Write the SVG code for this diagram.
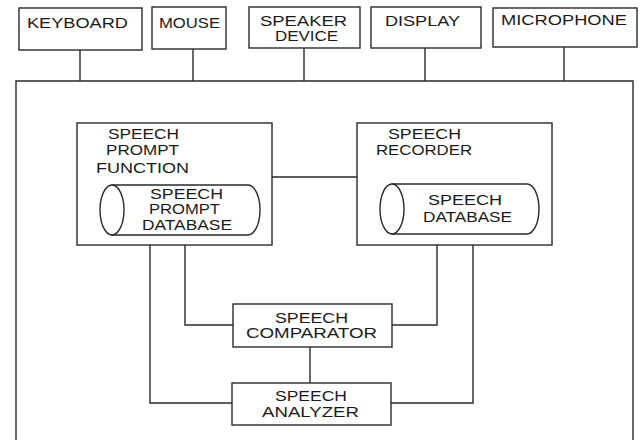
<svg xmlns="http://www.w3.org/2000/svg" width="641" height="440" viewBox="0 0 641 440">
<style>
.b{fill:#fff;stroke:#2a2a2a;stroke-width:1.4}
.c{fill:none;stroke:#2a2a2a;stroke-width:1.4}
text{font-family:"Liberation Sans",Arial,sans-serif;font-size:14px;fill:#1a1a1a}
</style>
<rect width="641" height="440" fill="#fff"/>
<g id="system"><path class="c" d="M16,445 V81 H633 V445"/></g>
<g id="connectors">
<path class="c" d="M80,50 V81 M193,49 V81 M304,48 V81 M425,48 V81 M564,47 V81"/>
<path class="c" d="M272,177 H357"/>
<path class="c" d="M185,245 V325 H233 M437,245 V325 H392 M310,347 V383 M150,245 V403 H232 M473,245 V403 H391"/>
</g>
<g id="keyboard"><rect class="b" x="19" y="8" width="123" height="42"/><text x="27" y="28" textLength="101" lengthAdjust="spacingAndGlyphs">KEYBOARD</text></g>
<g id="mouse"><rect class="b" x="152" y="7" width="74" height="42"/><text x="159" y="28" textLength="61" lengthAdjust="spacingAndGlyphs">MOUSE</text></g>
<g id="speaker"><rect class="b" x="249" y="7" width="111" height="41"/><text x="260" y="26" textLength="87" lengthAdjust="spacingAndGlyphs">SPEAKER</text><text x="275" y="41" textLength="63" lengthAdjust="spacingAndGlyphs">DEVICE</text></g>
<g id="display"><rect class="b" x="371" y="7" width="110" height="41"/><text x="385" y="26" textLength="75" lengthAdjust="spacingAndGlyphs">DISPLAY</text></g>
<g id="microphone"><rect class="b" x="493" y="8" width="144" height="39"/><text x="501" y="25" textLength="126" lengthAdjust="spacingAndGlyphs">MICROPHONE</text></g>
<g id="prompt">
<rect class="b" x="77" y="123" width="195" height="122"/>
<text x="108" y="139" textLength="71" lengthAdjust="spacingAndGlyphs">SPEECH</text>
<text x="106" y="155" textLength="73" lengthAdjust="spacingAndGlyphs">PROMPT</text>
<text x="96" y="173" textLength="93" lengthAdjust="spacingAndGlyphs">FUNCTION</text>
</g>
<g id="prompt-db">
<path class="b" d="M112,185 H248 A12,25 0 0 1 248,235 H112 Z"/>
<ellipse class="b" cx="112" cy="210" rx="12" ry="25"/>
<text x="150" y="199" textLength="73" lengthAdjust="spacingAndGlyphs">SPEECH</text>
<text x="149" y="214" textLength="71" lengthAdjust="spacingAndGlyphs">PROMPT</text>
<text x="142" y="230" textLength="90" lengthAdjust="spacingAndGlyphs">DATABASE</text>
</g>
<g id="recorder">
<rect class="b" x="357" y="123" width="195" height="122"/>
<text x="388" y="139" textLength="73" lengthAdjust="spacingAndGlyphs">SPEECH</text>
<text x="376" y="155" textLength="96" lengthAdjust="spacingAndGlyphs">RECORDER</text>
</g>
<g id="speech-db">
<path class="b" d="M392,184 H527 A12,25 0 0 1 527,234 H392 Z"/>
<ellipse class="b" cx="392" cy="209" rx="12" ry="25"/>
<text x="428" y="205" textLength="74" lengthAdjust="spacingAndGlyphs">SPEECH</text>
<text x="423" y="222" textLength="89" lengthAdjust="spacingAndGlyphs">DATABASE</text>
</g>
<g id="comparator">
<rect class="b" x="233" y="304" width="159" height="43"/>
<text x="275" y="323" textLength="73" lengthAdjust="spacingAndGlyphs">SPEECH</text>
<text x="246" y="338" textLength="131" lengthAdjust="spacingAndGlyphs">COMPARATOR</text>
</g>
<g id="analyzer">
<rect class="b" x="232" y="383" width="159" height="42"/>
<text x="275" y="401" textLength="72" lengthAdjust="spacingAndGlyphs">SPEECH</text>
<text x="262" y="417" textLength="97" lengthAdjust="spacingAndGlyphs">ANALYZER</text>
</g>
</svg>
